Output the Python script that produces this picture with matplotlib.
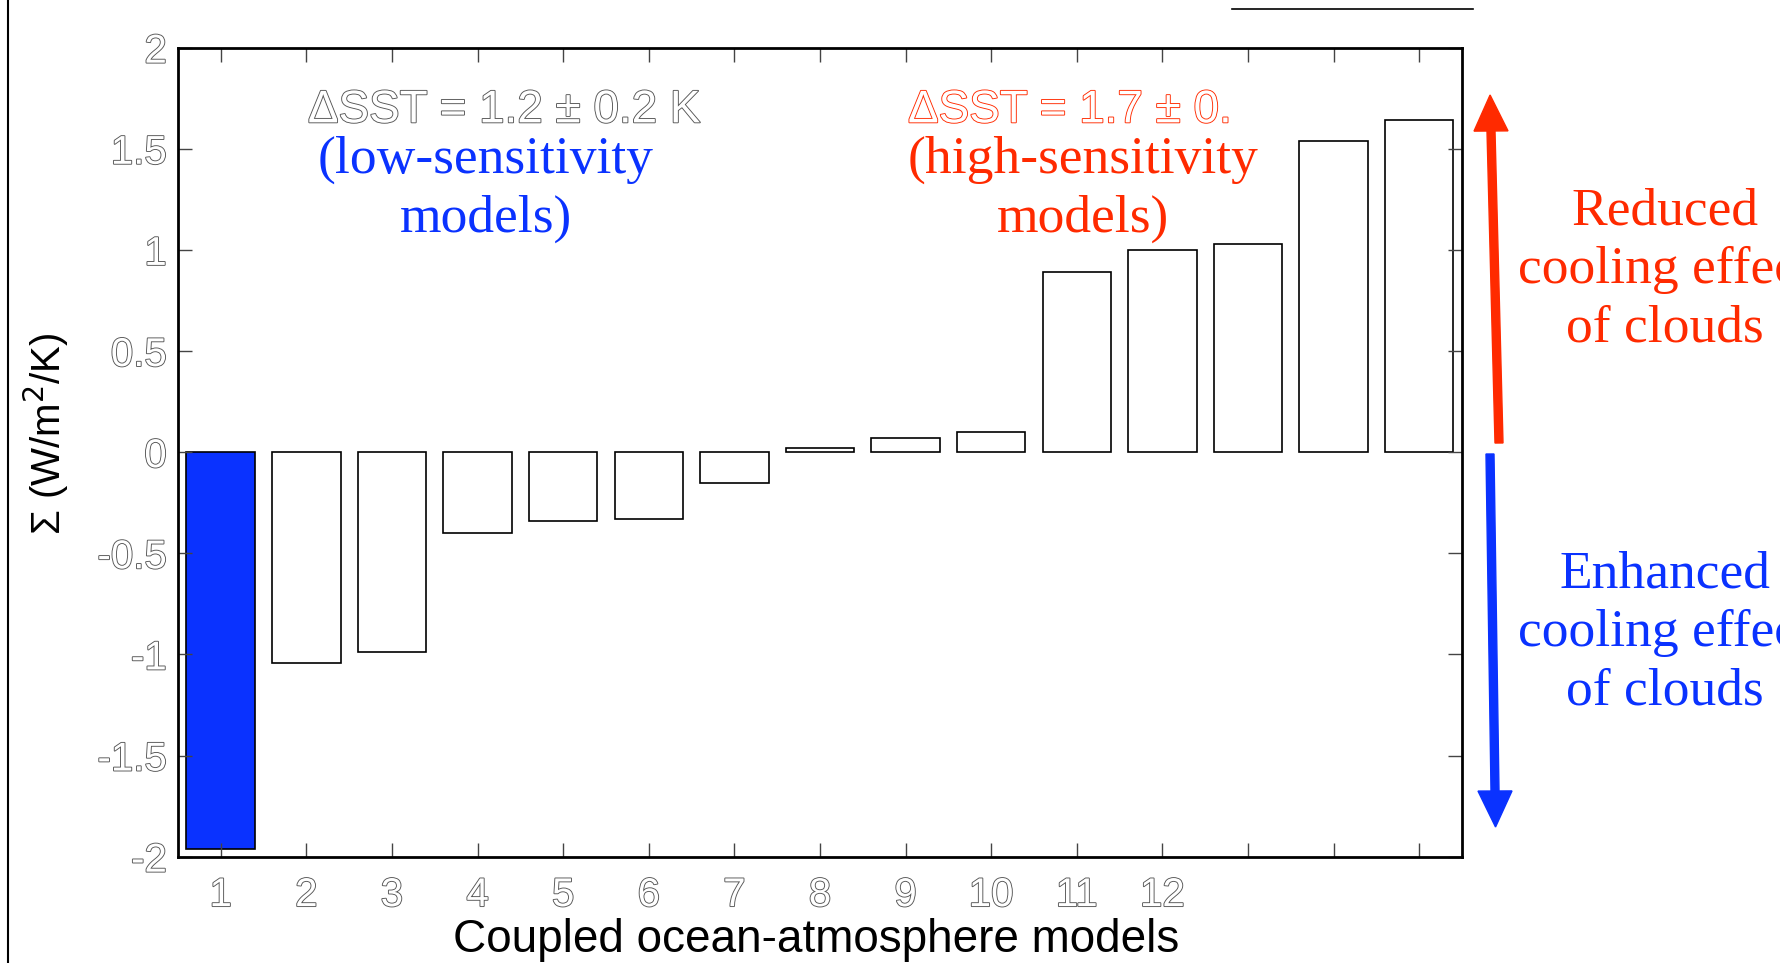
#Bar chart of cloud feedback per coupled model
import matplotlib
matplotlib.use('Agg')
import matplotlib.pyplot as plt
import matplotlib.patheffects as pe
from matplotlib.patches import FancyArrow
from matplotlib.lines import Line2D

models = list(range(1, 16))
feedback = [-1.96, -1.04, -0.99, -0.40, -0.34, -0.33, -0.15, 0.02, 0.07, 0.10,
            0.89, 1.00, 1.03, 1.54, 1.64]
tick_labels = ['1', '2', '3', '4', '5', '6', '7', '8', '9', '10', '11', '12', '', '', '']
y_ticks = [-2, -1.5, -1, -0.5, 0, 0.5, 1, 1.5, 2]
y_tick_labels = ['-2', '-1.5', '-1', '-0.5', '0', '0.5', '1', '1.5', '2']

blue = '#0a32ff'
red = '#ff2a00'
hollow_gray = [pe.withStroke(linewidth=1.3, foreground='#555555')]
hollow_red = [pe.withStroke(linewidth=1.3, foreground=red)]

W, H = 1781, 963
fig = plt.figure(figsize=(W / 100, H / 100), dpi=100)
ax = fig.add_axes([0.0999, 0.1104, 0.7210, 0.8401])

colors = [blue] + ['white'] * (len(models) - 1)
ax.bar(models, feedback, width=0.8, color=colors, edgecolor='black', linewidth=1.2)

ax.set_xlim(0.5, 15.5)
ax.set_ylim(-2, 2)
ax.set_xticks(models)
ax.set_xticklabels(tick_labels)
ax.set_yticks(y_ticks)
ax.set_yticklabels(y_tick_labels)
ax.tick_params(direction='in', length=10, width=1, color='#444444',
               top=True, right=True, labelsize=29, labelcolor='white')
ax.tick_params(axis='x', pad=14)
ax.tick_params(axis='y', pad=8)
for lab in ax.get_xticklabels() + ax.get_yticklabels():
    lab.set_fontfamily('Liberation Sans')
    lab.set_path_effects(hollow_gray)
for sp in ax.spines.values():
    sp.set_linewidth(2)

# annotations inside the plot
ax.text(4.31, 1.69, '\u0394SST = 1.2 \u00b1 0.2 K', ha='center', va='center',
        fontsize=33, color='white', family='Liberation Sans', path_effects=hollow_gray)
ax.text(4.1, 1.30, '(low-sensitivity\nmodels)', ha='center', va='center',
        fontsize=38.5, color=blue, family='Liberation Serif', linespacing=1.28)
ax.text(10.92, 1.69, '\u0394SST = 1.7 \u00b1 0.', ha='center', va='center',
        fontsize=33, color='white', family='Liberation Sans', path_effects=hollow_red)
ax.text(11.07, 1.30, '(high-sensitivity\nmodels)', ha='center', va='center',
        fontsize=38.5, color=red, family='Liberation Serif', linespacing=1.28)

fig.text(0.026, 0.55, '\u03a3 (W/m$^2$/K)', rotation=90, ha='center', va='center',
         fontsize=29, family='Liberation Sans')
fig.text(0.458, 0.024, 'Coupled ocean-atmosphere models', ha='center', va='center',
         fontsize=33, family='Liberation Sans')

# arrows on the right
head = 36
fig.patches.append(FancyArrow(
    1499 / W, 1 - 443 / H, -8 / W, (348 - head) / H,
    width=8 / W, head_width=34 / W, head_length=head / H,
    color=red, transform=fig.transFigure))
fig.patches.append(FancyArrow(
    1490 / W, 1 - 454 / H, 5 / W, -(373 - head) / H,
    width=8 / W, head_width=34 / W, head_length=head / H,
    color=blue, transform=fig.transFigure))

# these run past the right edge in the original slide crop
fig.text(0.935, 0.72, 'Reduced\ncooling effect\nof clouds', ha='center', va='center',
         fontsize=38.5, color=red, family='Liberation Serif', linespacing=1.28)
fig.text(0.935, 0.343, 'Enhanced\ncooling effect\nof clouds', ha='center', va='center',
         fontsize=38.5, color=blue, family='Liberation Serif', linespacing=1.28)

# slide border fragments
fig.lines.append(Line2D([8 / W, 8 / W], [0, 1], color='black', linewidth=1.5,
                        transform=fig.transFigure))
fig.lines.append(Line2D([1232 / W, 1473 / W], [1 - 9 / H, 1 - 9 / H],
                        color='black', linewidth=1.2, transform=fig.transFigure))

plt.savefig('out.png', dpi=100, facecolor='white')
